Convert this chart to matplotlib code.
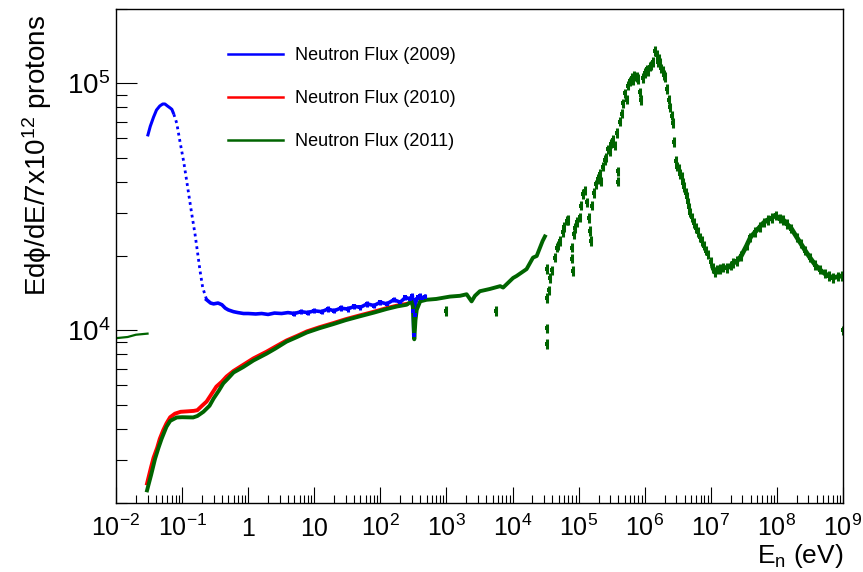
import matplotlib
matplotlib.use("Agg")
import numpy as np
import matplotlib.pyplot as plt
from matplotlib.lines import Line2D
from matplotlib.ticker import FixedLocator, LogLocator, FuncFormatter, NullFormatter

plt.rcParams['font.family'] = ['Liberation Sans', 'DejaVu Sans']
plt.rcParams['mathtext.fontset'] = 'custom'
plt.rcParams['mathtext.rm'] = 'Liberation Sans'
plt.rcParams['mathtext.it'] = 'Liberation Sans:italic'
plt.rcParams['mathtext.bf'] = 'Liberation Sans:bold'

# ---- 2009 campaign (eV, flux) ----
blue_E = [0.030, 0.033, 0.037, 0.041, 0.046, 0.051, 0.055, 0.060, 0.066, 0.070,
          0.075, 0.083, 0.093, 0.106, 0.117, 0.128, 0.140, 0.157, 0.170, 0.187,
          0.205, 0.235, 0.27, 0.30, 0.35, 0.40, 0.45, 0.50, 0.60, 0.70,
          0.85, 1.0, 1.3, 1.6, 2.0, 2.5, 3.2, 4.0, 5.0, 6.3,
          8.0, 10, 13, 16, 20, 25, 32, 40, 50, 63,
          80, 100, 125, 160, 200, 240, 280, 305, 315, 320,
          330, 345, 370, 400, 430, 470]
blue_flux = [6.1e4, 6.7e4, 7.3e4, 7.8e4, 8.1e4, 8.25e4, 8.25e4, 8.1e4, 7.95e4, 7.85e4,
             7.5e4, 6.9e4, 5.8e4, 4.8e4, 4.05e4, 3.46e4, 2.96e4, 2.45e4, 2.1e4, 1.74e4,
             1.49e4, 1.33e4, 1.29e4, 1.28e4, 1.29e4, 1.27e4, 1.23e4, 1.21e4, 1.19e4, 1.18e4,
             1.17e4, 1.17e4, 1.165e4, 1.17e4, 1.16e4, 1.175e4, 1.17e4, 1.18e4, 1.17e4, 1.19e4,
             1.18e4, 1.2e4, 1.19e4, 1.22e4, 1.2e4, 1.23e4, 1.22e4, 1.25e4, 1.24e4, 1.28e4,
             1.26e4, 1.3e4, 1.28e4, 1.33e4, 1.3e4, 1.36e4, 1.34e4, 1.38e4, 1.2e4, 9.6e3,
             1.15e4, 1.33e4, 1.36e4, 1.38e4, 1.35e4, 1.37e4]
blue_relerr = 0.025

# ---- 2010 campaign ----
red_E = [0.0295, 0.034, 0.037, 0.042, 0.046, 0.052, 0.058, 0.066, 0.078, 0.095,
         0.12, 0.15, 0.17, 0.20, 0.235, 0.27, 0.33, 0.40, 0.47, 0.60,
         0.84, 1.2, 1.9, 2.6, 3.8, 5.5, 7.7, 12, 19.4, 30,
         49, 80, 124, 180, 250]
red_flux = [2.4e3, 2.8e3, 3.05e3, 3.35e3, 3.64e3, 3.95e3, 4.2e3, 4.45e3, 4.6e3, 4.68e3,
            4.7e3, 4.72e3, 4.75e3, 4.95e3, 5.15e3, 5.45e3, 5.92e3, 6.2e3, 6.5e3, 6.85e3,
            7.25e3, 7.7e3, 8.2e3, 8.6e3, 9.1e3, 9.5e3, 9.9e3, 1.03e4, 1.07e4, 1.11e4,
            1.15e4, 1.19e4, 1.23e4, 1.26e4, 1.28e4]

# ---- 2011 campaign ----
green_stub_E = [0.0101, 0.015, 0.020, 0.030]
green_stub_flux = [9.3e3, 9.4e3, 9.6e3, 9.7e3]

green_low_E = [0.0295, 0.034, 0.039, 0.044, 0.049, 0.058, 0.066, 0.083, 0.10, 0.147,
               0.17, 0.21, 0.26, 0.30, 0.36, 0.42, 0.50, 0.60, 0.84, 1.2,
               1.9, 2.6, 3.8, 5.5, 7.7, 12, 19.4, 30, 49, 80,
               124, 180, 250, 295, 310, 326, 340, 355, 400, 500,
               700, 1130, 1600, 2020, 2400, 2700, 3200, 4500, 6500, 7200,
               10200, 11500, 16300, 20400, 23200, 28500, 30900]
green_low_flux = [2.25e3, 2.6e3, 3.02e3, 3.35e3, 3.64e3, 4.07e3, 4.3e3, 4.44e3, 4.45e3, 4.44e3,
                  4.5e3, 4.68e3, 4.95e3, 5.3e3, 5.7e3, 6.1e3, 6.4e3, 6.75e3, 7.1e3, 7.55e3,
                  8.05e3, 8.45e3, 9.0e3, 9.4e3, 9.8e3, 1.02e4, 1.06e4, 1.10e4, 1.14e4, 1.18e4,
                  1.22e4, 1.25e4, 1.27e4, 1.31e4, 1.25e4, 9.2e3, 1.1e4, 1.21e4, 1.31e4, 1.33e4,
                  1.34e4, 1.37e4, 1.38e4, 1.40e4, 1.31e4, 1.38e4, 1.44e4, 1.47e4, 1.51e4, 1.49e4,
                  1.63e4, 1.66e4, 1.77e4, 1.97e4, 2.0e4, 2.3e4, 2.4e4]

green_mid_E = [3.28e4, 3.30e4, 3.32e4, 3.34e4, 3.55e4, 3.68e4, 3.98e4, 4.38e4, 4.65e4, 4.9e4,
               5.21e4, 5.75e4, 6.1e4, 6.58e4, 6.97e4, 7.82e4, 8.0e4, 8.26e4, 8.5e4, 8.91e4,
               9.5e4, 1.05e5, 1.1e5, 1.17e5, 1.24e5, 1.35e5, 1.43e5, 1.48e5, 1.52e5, 1.58e5,
               1.7e5, 1.86e5, 1.98e5, 2.09e5, 2.2e5, 2.34e5, 2.5e5, 2.63e5, 2.8e5, 2.95e5,
               3.1e5, 3.31e5, 3.5e5, 3.8e5, 3.94e5, 3.98e5, 4.17e5, 4.47e5, 4.7e5, 5.01e5,
               5.3e5, 5.62e5, 6.0e5, 6.31e5, 6.6e5, 6.92e5, 7.52e5, 8.0e5, 8.51e5, 8.91e5,
               9.3e5, 1.0e6, 1.07e6, 1.12e6, 1.2e6, 1.26e6, 1.35e6, 1.43e6, 1.51e6, 1.58e6,
               1.65e6, 1.7e6, 1.78e6, 1.86e6, 1.93e6, 2.02e6, 2.19e6, 2.3e6, 2.4e6, 2.55e6,
               2.69e6, 2.82e6, 2.95e6, 3.1e6, 3.31e6, 3.47e6, 3.63e6, 3.8e6, 3.98e6, 4.15e6,
               4.32e6, 4.5e6, 4.68e6, 4.9e6, 5.13e6, 5.5e6, 5.89e6, 6.3e6, 6.76e6, 7.3e6,
               7.94e6, 8.5e6, 9.12e6, 1.0e7]
green_mid_flux = [1.77e4, 1.35e4, 1.02e4, 8.8e3, 1.45e4, 1.63e4, 1.75e4, 1.97e4, 2.16e4, 2.2e4,
                  2.3e4, 2.5e4, 2.62e4, 2.78e4, 2.8e4, 2.16e4, 1.95e4, 1.74e4, 2.45e4, 2.6e4,
                  2.75e4, 2.87e4, 3.2e4, 3.57e4, 3.68e4, 3.3e4, 2.85e4, 2.53e4, 2.3e4, 3.2e4,
                  3.6e4, 3.9e4, 4.1e4, 4.3e4, 4.0e4, 4.6e4, 4.9e4, 5.0e4, 5.4e4, 5.3e4,
                  5.7e4, 5.9e4, 5.6e4, 6.3e4, 4.4e4, 4.0e4, 7.0e4, 7.55e4, 8.3e4, 9.1e4,
                  8.6e4, 9.8e4, 1.02e5, 1.05e5, 1.03e5, 1.07e5, 1.06e5, 1.04e5, 9.2e4, 8.55e4,
                  1.05e5, 1.1e5, 1.14e5, 1.12e5, 1.17e5, 1.18e5, 1.22e5, 1.35e5, 1.3e5, 1.22e5,
                  1.26e5, 1.21e5, 1.15e5, 1.12e5, 1.08e5, 1.06e5, 9.5e4, 8.6e4, 8.0e4, 7.4e4,
                  6.9e4, 5.8e4, 4.87e4, 4.6e4, 4.5e4, 4.3e4, 4.17e4, 3.95e4, 3.8e4, 3.6e4,
                  3.46e4, 3.3e4, 3.15e4, 3.0e4, 2.87e4, 2.72e4, 2.6e4, 2.5e4, 2.38e4, 2.3e4,
                  2.2e4, 2.1e4, 2.03e4, 1.9e4]
green_relerr = 0.045

green_high_E = [1.08e7, 1.15e7, 1.26e7, 1.38e7, 1.55e7, 1.78e7, 2.0e7, 2.19e7, 2.51e7, 2.88e7,
                3.47e7, 3.98e7, 4.68e7, 5.5e7, 6.31e7, 7.24e7, 8.32e7, 9.55e7, 1.1e8, 1.25e8,
                1.41e8, 1.66e8, 2.0e8, 2.29e8, 2.69e8, 3.16e8, 3.8e8, 4.47e8, 5.25e8, 6.17e8,
                7.08e8, 8.32e8, 9.55e8]
green_high_flux = [1.79e4, 1.72e4, 1.76e4, 1.77e4, 1.8e4, 1.79e4, 1.83e4, 1.87e4, 1.91e4, 2.0e4,
                   2.2e4, 2.38e4, 2.5e4, 2.62e4, 2.73e4, 2.8e4, 2.85e4, 2.92e4, 2.83e4, 2.8e4,
                   2.7e4, 2.58e4, 2.38e4, 2.25e4, 2.1e4, 1.97e4, 1.84e4, 1.76e4, 1.7e4, 1.66e4,
                   1.63e4, 1.65e4, 1.66e4]

green_iso_E = [1000, 5600, 1.0e9]
green_iso_flux = [1.2e4, 1.2e4, 1.0e4]

labels = ["Neutron Flux (2009)", "Neutron Flux (2010)", "Neutron Flux (2011)"]
c_blue, c_red, c_green = "#0000ff", "#ff0000", "#006400"

x_major = [10.0 ** k for k in range(-2, 10)]
y_major = [1e4, 1e5]


def err_bars(ax, E, F, rel, color):
    F = np.asarray(F)
    ax.errorbar(E, F, yerr=[F * (1 - 1 / (1 + rel)), F * rel],
                fmt="s", ms=2.4, mew=0, color=color, ecolor=color,
                elinewidth=2.2, capsize=0)


fig = plt.figure(figsize=(8.63, 5.72), dpi=100)
ax = fig.add_axes([116 / 863, 69 / 572, 727 / 863, 494 / 572])
ax.set_xscale("log")
ax.set_yscale("log")

# 2009: solid near the peak and on the plateau, dotted across the steep drop
lw = 2.2
b_E, b_F = np.array(blue_E), np.array(blue_flux)
ax.plot(b_E[:11], b_F[:11], color=c_blue, lw=lw, solid_capstyle="butt")
ax.plot(b_E[10:22], b_F[10:22], color=c_blue, lw=2.0, linestyle=(0, (1, 1.3)))
ax.plot(b_E[21:], b_F[21:], color=c_blue, lw=lw + 0.4)
err_bars(ax, b_E[38:], b_F[38:], blue_relerr, c_blue)

ax.plot(red_E, red_flux, color=c_red, lw=lw + 0.6)

ax.plot(green_stub_E, green_stub_flux, color=c_green, lw=1.6)
ax.plot(green_low_E, green_low_flux, color=c_green, lw=lw + 0.6)
err_bars(ax, green_mid_E, green_mid_flux, green_relerr, c_green)
ax.plot(green_high_E, green_high_flux, color=c_green, lw=3.4)
err_bars(ax, green_high_E, green_high_flux, green_relerr, c_green)
err_bars(ax, green_iso_E, green_iso_flux, green_relerr, c_green)

ax.set_xlim(1e-2, 1e9)
ax.set_ylim(2e3, 2e5)

ax.xaxis.set_major_locator(FixedLocator(x_major))
ax.xaxis.set_minor_locator(LogLocator(base=10, subs=np.arange(2, 10), numticks=100))
ax.xaxis.set_minor_formatter(NullFormatter())
ax.yaxis.set_major_locator(FixedLocator(y_major))
ax.yaxis.set_minor_locator(LogLocator(base=10, subs=np.arange(2, 10), numticks=100))
ax.yaxis.set_minor_formatter(NullFormatter())


def fmt_x(v, pos):
    k = int(round(np.log10(v)))
    if k == 0:
        return "1"
    if k == 1:
        return "10"
    return r"$\mathregular{10^{%d}}$" % k


def fmt_y(v, pos):
    k = int(round(np.log10(v)))
    return r"$\mathregular{10^{%d}}$" % k


ax.xaxis.set_major_formatter(FuncFormatter(fmt_x))
ax.yaxis.set_major_formatter(FuncFormatter(fmt_y))

ax.tick_params(axis="both", which="both", direction="in", top=False, right=False,
               width=0.8, color="black")
ax.tick_params(axis="x", which="major", length=11.5, labelsize=18, pad=24)
ax.tick_params(axis="x", which="minor", length=5.8)
ax.tick_params(axis="y", which="major", length=15, labelsize=20, pad=4)
ax.tick_params(axis="y", which="minor", length=8)
for t in ax.xaxis.get_major_ticks():
    t.label1.set_verticalalignment("baseline")

for s in ax.spines.values():
    s.set_linewidth(1.0)
    s.set_color("black")

fig.text(37 / 863, 1 - 15 / 572, "Edϕ/dE/7x10$^{\\mathregular{12}}$ protons",
         rotation=90, ha="center", va="top", fontsize=20)
fig.text(843 / 863, 9 / 572, r"E$_{\mathregular{n}}$ (eV)", ha="right",
         va="baseline", fontsize=19)

handles = [Line2D([], [], color=c, lw=1.8) for c in (c_blue, c_red, c_green)]
ax.legend(handles, labels, loc="upper left",
          bbox_to_anchor=(228 / 863, 1 - 47 / 572), bbox_transform=fig.transFigure,
          frameon=False, fontsize=13, handlelength=3.05, handletextpad=0.66,
          labelspacing=1.44, borderpad=0, borderaxespad=0)

fig.savefig("out.png", dpi=100)
